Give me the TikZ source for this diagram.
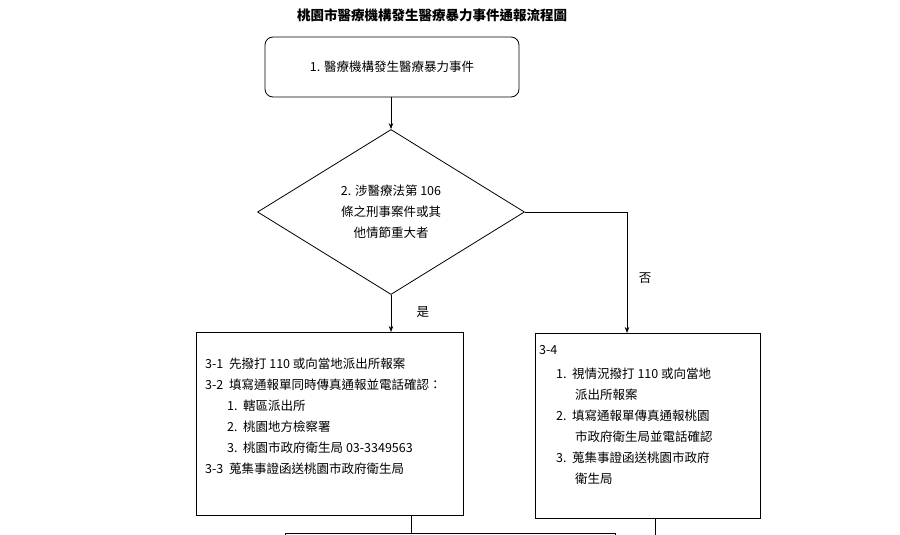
\documentclass[tikz,border=0pt]{standalone}
\usepackage{fontspec}
\setmainfont{Liberation Serif}
\newfontfamily\cjk{Noto Sans CJK TC}
\usetikzlibrary{shapes.geometric,arrows.meta,positioning}
\tikzset{
	flowbox/.style={draw,line width=0.8pt,inner sep=0pt},
	flowarrow/.style={->,>={Stealth[length=6pt]},line width=0.6pt},
	flowline/.style={line width=0.6pt}
}
\begin{document}
\begin{tikzpicture}[x=1pt,y=-1pt,font=\cjk\fontsize{12.5}{21}\selectfont]
	\useasboundingbox (0,0) rectangle (900,535);
	\clip (0,0) rectangle (900,535);
	\node (title) at (432,15) {\fontsize{13.5}{16}\selectfont\bfseries 桃園市醫療機構發生醫療暴力事件通報流程圖};
	\draw[flowbox,rounded corners=8pt] (265,37) rectangle (519,97);
	\node (start) at (392,67) {1. 醫療機構發生醫療暴力事件};
	\node[draw,diamond,line width=0.8pt,aspect=1.62,minimum width=267pt,minimum height=165pt,inner sep=0pt] (check) at (391,212) {};
	\node[align=center] at (check) {2. 涉醫療法第 106\\條之刑事案件或其\\他情節重大者};
	\coordinate (corner) at (627,212);
	\draw[flowarrow] (391,97) -- (check.north);
	\draw[flowbox] (196,332) rectangle (463,515);
	\node[anchor=north west,align=left,inner sep=0pt] (yesbox) at (205,358) {3-1\ \ 先撥打 110 或向當地派出所報案\\3-2\ \ 填寫通報單同時傳真通報並電話確認：\\\hspace{22pt}1.\ \ 轄區派出所\\\hspace{22pt}2.\ \ 桃園地方檢察署\\\hspace{22pt}3.\ \ 桃園市政府衛生局 03-3349563\\3-3\ \ 蒐集事證函送桃園市政府衛生局};
	\draw[flowbox] (535,333) rectangle (760,518);
	\node[anchor=north west,align=left,inner sep=0pt] (nobox) at (539,345) {3-4};
	\node[anchor=north west,align=left,inner sep=0pt] at (556,368) {1.\ \ 視情況撥打 110 或向當地\\\hspace{19pt}派出所報案\\2.\ \ 填寫通報單傳真通報桃園\\\hspace{19pt}市政府衛生局並電話確認\\3.\ \ 蒐集事證函送桃園市政府\\\hspace{19pt}衛生局};
	\draw[flowarrow] (check.south) -- (391,332) node[pos=0.45,right=22pt] {是};
	\draw[flowarrow] (check.east) -- (corner) -- (627,333);
	\node (no) at (645,278) {否};
	\draw[flowbox] (285,533) rectangle (615,600);
	\draw[flowline] (411,515) -- (411,533);
	\draw[flowline] (655,518) -- (655,540);
\end{tikzpicture}
\end{document}
